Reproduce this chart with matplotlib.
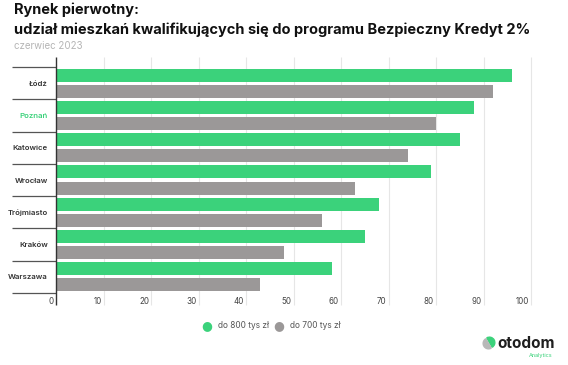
import numpy as np
import matplotlib.pyplot as plt
from matplotlib.patches import Wedge
from matplotlib.transforms import ScaledTranslation

cities = ["Łódź", "Poznań", "Katowice", "Wrocław", "Trójmiasto", "Kraków", "Warszawa"]
do_800 = [96, 88, 85, 79, 68, 65, 58]
do_700 = [92, 80, 74, 63, 56, 48, 43]
xticks = [0, 10, 20, 30, 40, 50, 60, 70, 80, 90, 100]

GREEN = "#3bd27b"
GREY = "#9b9898"

plt.rcParams['font.family'] = ['Inter', 'DejaVu Sans']

fig = plt.figure(figsize=(5.68, 3.65), dpi=100)
ax = fig.add_axes([56 / 568, 1 - 293 / 365, 475 / 568, 226 / 365])

y = np.arange(len(cities))
h = 0.4
ax.barh(y - 0.25, do_800, height=h, color=GREEN, zorder=2)
ax.barh(y + 0.25, do_700, height=h, color=GREY, zorder=2)

ax.set_xlim(0, 100)
ax.set_ylim(len(cities) - 0.5, -0.5)
for s in ax.spines.values():
    s.set_visible(False)

# grid lines reaching a bit beyond the plot
ax.vlines(xticks[1:], -0.055, 1.045, transform=ax.get_xaxis_transform(),
          colors="#e6e6e6", lw=0.8, clip_on=False, zorder=0)
ax.vlines([0], -0.055, 1.045, transform=ax.get_xaxis_transform(),
          colors="#333333", lw=1.0, clip_on=False, zorder=3)
# category separators on the left
bounds = np.arange(len(cities) + 1) - 0.5
ax.hlines(bounds, -44 / 475, 0, transform=ax.get_yaxis_transform(),
          colors="#555555", lw=0.9, clip_on=False)

ax.set_xticks(xticks)
ax.set_xticklabels([str(t) for t in xticks])
ax.tick_params(axis='x', length=0, pad=3, labelsize=5.8, labelcolor="#444444")
off = ScaledTranslation(-2 / 100, 0, fig.dpi_scale_trans)
for lab in ax.get_xticklabels():
    lab.set_ha('right')
    lab.set_transform(lab.get_transform() + off)

ax.set_yticks(y)
ax.set_yticklabels(cities)
ax.tick_params(axis='y', length=0, pad=6, labelsize=5.6, labelcolor="#333333")
for lab in ax.get_yticklabels():
    lab.set_fontweight('semibold')
    if lab.get_text() == "Poznań":
        lab.set_color(GREEN)

# titles
fig.text(14 / 568, 1 - 10 / 365, "Rynek pierwotny:", fontsize=10.5, fontweight='bold',
         color="#111111", va='center', ha='left')
fig.text(14 / 568, 1 - 30 / 365,
         "udział mieszkań kwalifikujących się do programu Bezpieczny Kredyt 2%",
         fontsize=10.5, fontweight='bold', color="#111111", va='center', ha='left')
fig.text(14 / 568, 1 - 46 / 365, "czerwiec 2023", fontsize=7, color="#b5b5b5",
         va='center', ha='left')

# legend
fig.text(207 / 568, 1 - 326 / 365, "●", color=GREEN, fontsize=9, ha='center', va='center',
         family='DejaVu Sans')
fig.text(218 / 568, 1 - 326 / 365, "do 800 tys zł", color="#555555", fontsize=6,
         ha='left', va='center')
fig.text(279 / 568, 1 - 326 / 365, "●", color=GREY, fontsize=9, ha='center', va='center',
         family='DejaVu Sans')
fig.text(290 / 568, 1 - 326 / 365, "do 700 tys zł", color="#555555", fontsize=6,
         ha='left', va='center')

# logo
lax = fig.add_axes([480 / 568, 1 - 352 / 365, 18 / 568, 18 / 365])
lax.set_xlim(-1, 1)
lax.set_ylim(-1, 1)
lax.set_aspect('equal')
lax.axis('off')
lax.add_patch(Wedge((0.05, 0.05), 0.6, -60, 120, color=GREEN))
lax.add_patch(Wedge((-0.05, -0.05), 0.6, 120, 300, color="#b8b8b8"))
fig.text(497 / 568, 1 - 343 / 365, "otodom", fontsize=11, fontweight='bold', color="#1f1f1f",
         ha='left', va='center')
fig.text(552 / 568, 1 - 355 / 365, "Analytics", fontsize=4, color=GREEN,
         ha='right', va='center')

fig.savefig("out.png", dpi=100)
